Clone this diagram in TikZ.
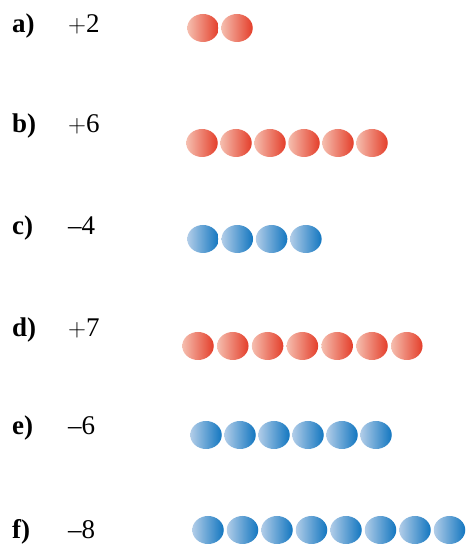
\documentclass[tikz,border=0pt]{standalone}
\usepackage{fontspec}
\setmainfont{Liberation Serif}
\usepackage{tikz}
\usetikzlibrary{positioning, shapes.geometric}

\definecolor{chipredlt}{RGB}{245,190,175}
\definecolor{chipreddk}{RGB}{228,62,42}
\definecolor{chipbluelt}{RGB}{178,205,232}
\definecolor{chipbluedk}{RGB}{18,118,192}

\begin{document}
\begin{tikzpicture}[
  x=1pt, y=1pt,
  font=\fontsize{27}{30}\selectfont,
  letter/.style={anchor=base west, inner sep=0pt, font=\fontsize{27}{30}\selectfont\bfseries},
  value/.style={anchor=base west, inner sep=0pt},
  chip/.style={ellipse, minimum width=31.5pt, minimum height=28pt, inner sep=0pt,
    shading=axis, shading angle=90},
  redchip/.style={chip, left color=chipredlt, right color=chipreddk},
  bluechip/.style={chip, left color=chipbluelt, right color=chipbluedk},
]
  \useasboundingbox (0,0) rectangle (467,546);

  % row label, its number, then the counters
  \foreach \row/\val/\ytxt/\xchip/\ychip/\gap/\n/\kind in {
      a/{$+$2}/513/203/518/34.0/2/redchip,
      b/{$+$6}/413/202/403/34.0/6/redchip,
      c/{--4}/311/203/307/34.3/4/bluechip,
      d/{$+$7}/209/198/200/34.8/7/redchip,
      e/{--6}/111/206/111/34.0/6/bluechip,
      f/{--8}/8/208/16/34.5/8/bluechip}
  {
    \node[letter] (\row-lab) at (12,\ytxt) {\row)};
    \node[value]  (\row-val) at (68,\ytxt) {\val};
    \foreach \i in {1,...,\n}
      \node[\kind] (\row\i) at ({\xchip+\gap*(\i-1)},\ychip) {};
  }
\end{tikzpicture}
\end{document}
